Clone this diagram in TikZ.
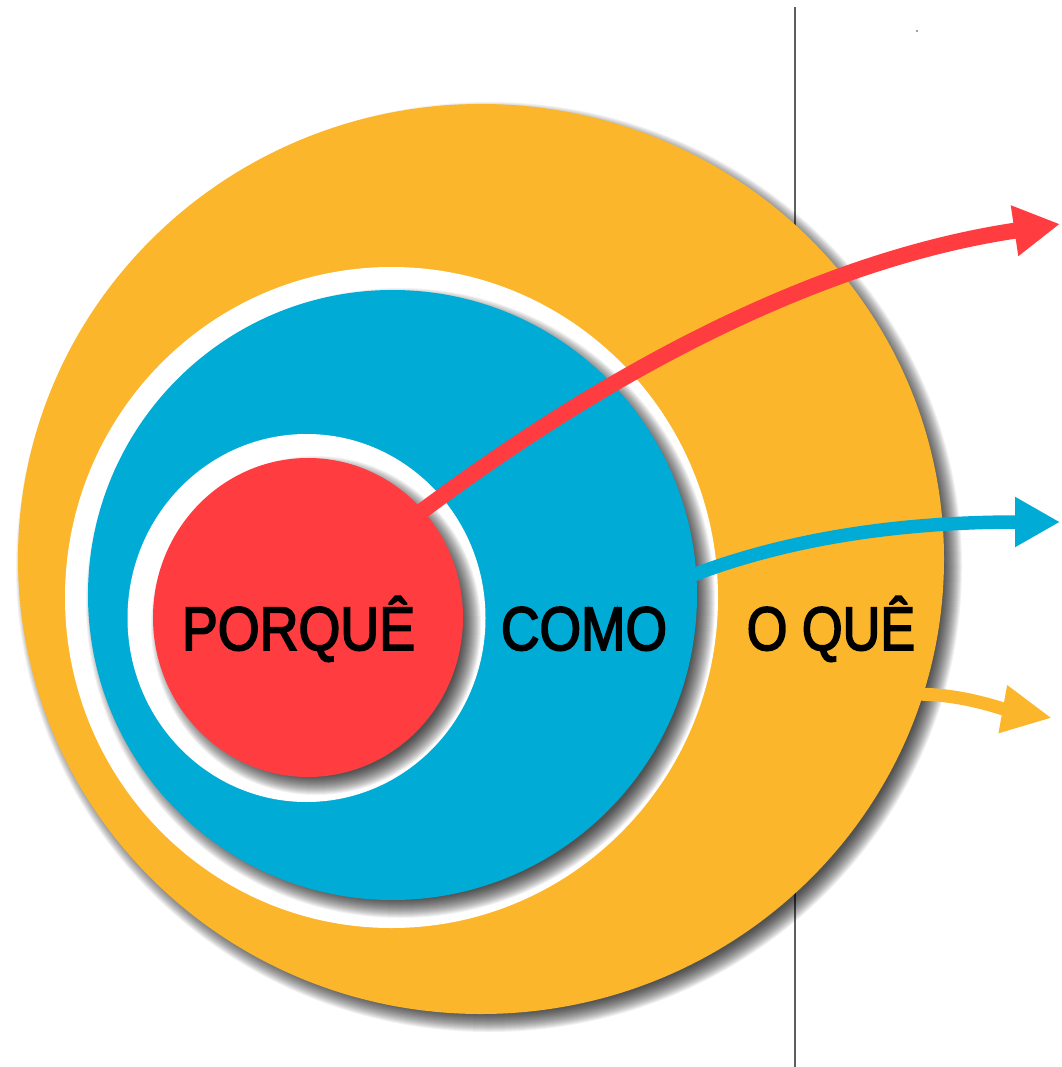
\documentclass[tikz,border=0pt]{standalone}
\usepackage{fontspec}
\newfontfamily\lblfont{Liberation Sans}[FakeBold=3]
\usetikzlibrary{arrows.meta,shapes.geometric}
\definecolor{ylw}{HTML}{FBB62B}
\definecolor{blu}{HTML}{00ABD5}
\definecolor{rd}{HTML}{FF3D40}
\definecolor{lnc}{HTML}{5E5E5E}
\newcommand\mysoftshadow[4]{%
  \foreach \k in {0,...,19}{%
    \fill[black,opacity=0.05] ({#1+8},{#2+8}) circle [x radius={#3+10-\k}, y radius={#4+10-\k}];}}
\begin{document}
\begin{tikzpicture}[x=1pt,y=-1pt,
  diskshape/.style={ellipse, inner sep=0pt, outer sep=0pt, draw=none},
  lbltext/.style={anchor=base, inner sep=0pt, text=black, font=\lblfont\fontsize{61.5}{70}\selectfont},
  arr/.style={line cap=butt, shorten <=-6pt},
]
\useasboundingbox (0,0) rectangle (1061,1067);
\fill[white] (0,0) rectangle (1061,1067);
% vertical rule (behind the circles)
\coordinate (vtop) at (795,7);
\coordinate (vbot) at (795,1067);
\draw[lnc, line width=1.8pt] (vtop) -- (vbot);
% tiny speck
\coordinate (speck) at (917,31);
\fill[gray] (speck) circle (1.2);
% outer yellow disk
\mysoftshadow{481}{559}{463}{455}
\node[diskshape, fill=ylw, minimum width=926, minimum height=910] (outer) at (481,559) {};
% white ring around blue
\node[diskshape, fill=white, minimum width=653, minimum height=661] (ringb) at (391.5,597.5) {};
\begin{scope}
  \clip (391.5,597.5) circle [x radius=325.5, y radius=329.5];
  \mysoftshadow{392.5}{595}{304.5}{305}
\end{scope}
\node[diskshape, fill=blu, minimum width=609, minimum height=610] (blue) at (392.5,595) {};
% white ring around red
\node[diskshape, fill=white, minimum width=358, minimum height=368] (ringr) at (306.5,618) {};
\begin{scope}
  \clip (306.5,618) circle [x radius=178, y radius=183];
  \mysoftshadow{308}{617.5}{155}{159.5}
\end{scope}
\node[diskshape, fill=rd, minimum width=310, minimum height=319] (red) at (308,617.5) {};
% labels
\node[lbltext] (tporque) at (298.5,650) {\scalebox{0.875}[1]{PORQUÊ}};
\node[lbltext] (tcomo) at (584,650) {\scalebox{0.868}[1]{COMO}};
\node[lbltext] (toque) at (831,650) {\scalebox{0.85}[1]{O QUÊ}};
% arrow ends
\coordinate (rtip) at (1060,224);
\coordinate (btip) at (1060,522);
\coordinate (ytip) at (1052,718);
% arrows
\draw[arr, rd, line width=16pt, -{Triangle[length=46pt,width=48pt]}]
  (red.43) .. controls +(200,-150) and +(-230,34) .. (rtip);
\draw[arr, blu, line width=13.5pt, -{Triangle[length=45pt,width=47pt]}]
  (blue.4) .. controls +(91,-35) and +(-161,0) .. (btip);
\draw[arr, ylw, line width=13pt, -{Triangle[length=50pt,width=45pt]}]
  (outer.-17.8) .. controls +(40,0) and +(-50,-9) .. (ytip);
\end{tikzpicture}
\end{document}
